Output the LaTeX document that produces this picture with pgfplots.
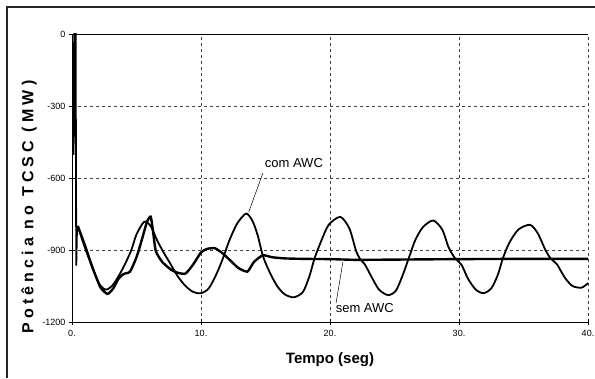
\documentclass[border=0pt]{standalone}
\usepackage{pgfplots}
\pgfplotsset{compat=1.18}
\usepackage{fontspec}
\setmainfont{Liberation Sans}
\begin{document}
\begin{tikzpicture}[x=1pt,y=1pt]
\useasboundingbox (0,0) rectangle (595,378);
\draw[line width=2pt, black!85] (7,0) -- (7,371) -- (595,371);
\node[rotate=90, anchor=center, font=\fontsize{16}{18}\selectfont\bfseries] at (29,171) {\addfontfeature{LetterSpace=26}Potência no TCSC (MW)};
\begin{axis}[
  at={(72pt,56pt)}, anchor=south west,
  scale only axis, width=516pt, height=288pt,
  xmin=0, xmax=40, ymin=-1200, ymax=0,
  axis x line*=bottom, axis y line*=left,
  axis line style={black, line width=0.7pt},
  xtick={0,10,20,30,40}, xticklabels={0.,10.,20.,30.,40.},
  ytick={0,-300,-600,-900,-1200}, yticklabels={0,-300,-600,-900,-1200},
  tick align=center, major tick length=6pt,
  tick style={black, line width=0.7pt},
  ticklabel style={font=\fontsize{9}{10}\selectfont},
  xticklabel style={yshift=-2pt},
  grid=major,
  grid style={black!75, line width=0.6pt, dash pattern=on 3pt off 3pt},
  xlabel={Tempo (seg)},
  xlabel style={font=\fontsize{15}{17}\selectfont\bfseries, at={(axis description cs:0.5,0)}, anchor=center, yshift=-38pt},
  clip=false,
]
\draw[black, line width=0.8pt] (axis cs:0,0) -- (axis cs:40,0);
% initial transient spike (both cases)
\addplot[black, line width=1.8pt] coordinates {
(0,-500) (0.12,-500) (0.17,0) (0.28,0) (0.33,-965) (0.38,-830) (0.45,-800)
};
% com AWC (oscillating)
\addplot[black, line width=1.8pt, smooth, tension=0.45] coordinates {
(0.45,-800) (1.0,-890) (1.6,-975) (2.1,-1040) (2.6,-1065) (3.1,-1050)
(3.6,-1010) (4.1,-960) (4.6,-900) (5.0,-835) (5.6,-782) (6.1,-800)
(6.6,-860) (7.1,-910) (7.6,-955) (8.2,-1010) (8.8,-1050) (9.4,-1075)
(10.0,-1080) (10.6,-1060) (11.2,-1000) (11.7,-935) (12.2,-860) (12.8,-790)
(13.5,-748) (14.0,-780) (14.4,-840) (14.8,-925) (15.3,-990) (15.9,-1050)
(16.5,-1085) (17.2,-1097) (17.9,-1075) (18.4,-1010) (18.8,-935) (19.3,-865)
(19.9,-795) (20.8,-762) (21.5,-810) (22.0,-900) (22.3,-935) (22.7,-960)
(23.2,-1010) (23.8,-1065) (24.5,-1088) (25.1,-1070) (25.6,-1010) (26.1,-935)
(26.6,-860) (27.2,-805) (28.0,-777) (28.7,-815) (29.2,-890) (29.7,-935)
(30.2,-962) (30.7,-1020) (31.3,-1065) (31.9,-1080) (32.5,-1060) (33.0,-1005)
(33.4,-935) (33.9,-870) (34.6,-815) (35.5,-795) (36.1,-830) (36.7,-900)
(37.1,-935) (37.6,-960) (38.2,-1015) (38.8,-1050) (39.5,-1057) (40.0,-1038)
};
% sem AWC (damped)
\addplot[black, line width=2.4pt, smooth, tension=0.35] coordinates {
(0.45,-800) (1.0,-880) (1.6,-975) (2.2,-1055) (2.75,-1083) (3.2,-1060)
(3.6,-1020) (4.0,-1000) (4.5,-990) (5.0,-930) (5.4,-860) (5.8,-785)
(6.1,-761) (6.3,-830) (6.5,-905) (7.0,-950) (7.7,-983) (8.2,-995)
(8.8,-998) (9.4,-960) (10.0,-910) (10.5,-895) (11.1,-893) (11.7,-915)
(12.3,-945) (12.9,-975) (13.6,-990) (14.1,-950) (14.8,-922) (15.5,-930)
(16.5,-935) (18,-937) (20,-938) (22,-941) (25,-940) (30,-938) (35,-937) (40,-937)
};
\draw[black, line width=0.5pt] (axis cs:14.8,-579) -- (axis cs:13.7,-742);
\node[font=\fontsize{13}{15}\selectfont] at (axis cs:17.2,-537) {com AWC};
\draw[black, line width=0.5pt] (axis cs:20.47,-1121) -- (axis cs:21.0,-950);
\node[font=\fontsize{13}{15}\selectfont] at (axis cs:22.7,-1142) {sem AWC};
\end{axis}
\end{tikzpicture}
\end{document}
